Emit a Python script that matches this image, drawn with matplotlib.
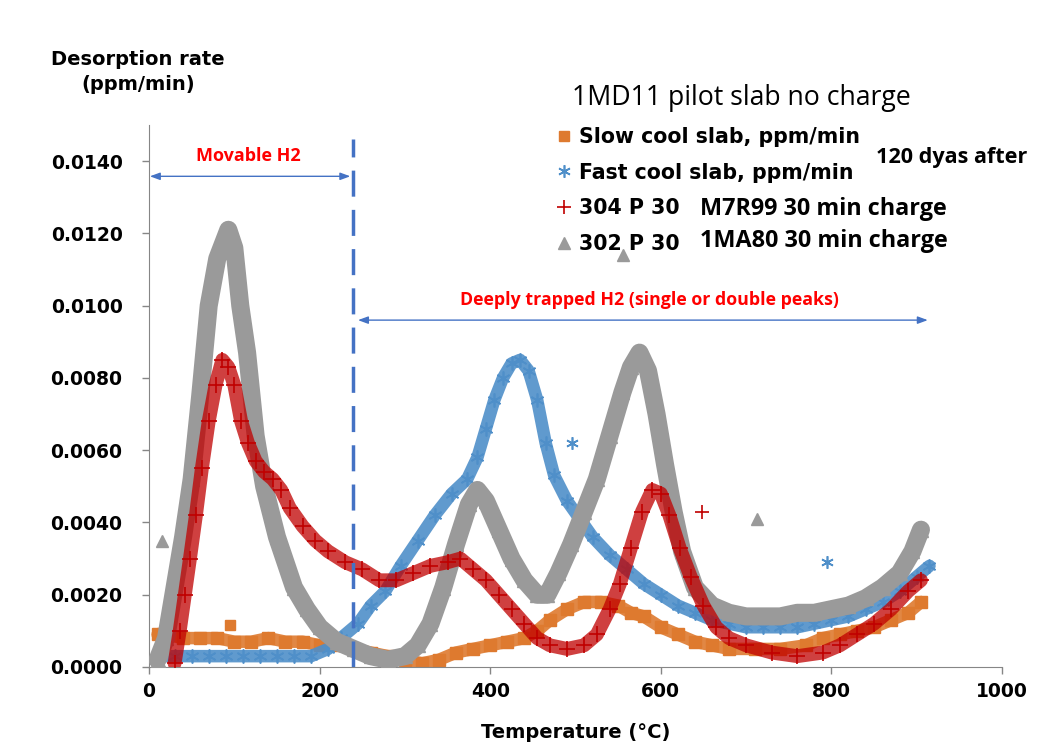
import matplotlib
matplotlib.use("Agg")
import matplotlib.pyplot as plt
from matplotlib.lines import Line2D

# --- data (temperature in degC, rate in ppm/min) ---
slow_T = [10, 20, 40, 60, 80, 100, 120, 140, 160, 180, 200, 220, 240, 260, 280, 300,
          320, 340, 360, 380, 400, 420, 440, 455, 470, 490, 510, 530, 550, 565, 580,
          600, 620, 640, 660, 680, 710, 740, 770, 790, 810, 830, 850, 870, 890, 905]
slow_v = [0.0009, 0.0009, 0.0008, 0.0008, 0.0008, 0.0007, 0.0007, 0.0008, 0.0007, 0.0007,
          0.0006, 0.0006, 0.0005, 0.0004, 0.0003, 0.0002, 0.0001, 0.0002, 0.0004, 0.0005,
          0.0006, 0.0007, 0.0008, 0.0010, 0.0013, 0.0016, 0.0018, 0.0018, 0.0017, 0.0015,
          0.0014, 0.0011, 0.0009, 0.0007, 0.0006, 0.0005, 0.0005, 0.0005, 0.0006, 0.0008,
          0.0009, 0.0010, 0.0011, 0.0013, 0.0015, 0.0018]
slow_out_T = [15, 95]
slow_out_v = [0.00095, 0.00115]

fast_T = [10, 30, 50, 70, 90, 110, 130, 150, 170, 190, 210, 225, 245, 260, 277, 295,
          315, 335, 355, 373, 385, 395, 405, 415, 425, 435, 445, 455, 465, 475, 490,
          505, 520, 540, 560, 580, 600, 620, 640, 660, 680, 700, 720, 740, 760, 780,
          800, 820, 840, 860, 880, 900, 915]
fast_v = [0.0003, 0.0003, 0.0003, 0.0003, 0.0003, 0.0003, 0.0003, 0.0003, 0.0003, 0.0003,
          0.0005, 0.0008, 0.0012, 0.0017, 0.0021, 0.0028, 0.0035, 0.0042, 0.0048, 0.0052,
          0.0058, 0.0066, 0.0074, 0.0080, 0.0084, 0.0085, 0.0082, 0.0074, 0.0062, 0.0053,
          0.0046, 0.0041, 0.0036, 0.0031, 0.0027, 0.0023, 0.0020, 0.0017, 0.0015, 0.0013,
          0.0012, 0.0011, 0.0011, 0.0011, 0.0011, 0.0012, 0.0013, 0.0014, 0.0016, 0.0018,
          0.0021, 0.0025, 0.0028]
fast_out_T = [496, 795]
fast_out_v = [0.0062, 0.0029]

p304_T = [30, 36, 42, 48, 55, 62, 70, 78, 86, 93, 100, 108, 116, 125, 135, 145, 155,
          165, 180, 195, 210, 230, 250, 270, 290, 310, 330, 350, 365, 380, 395, 410,
          425, 440, 455, 470, 490, 510, 525, 540, 552, 565, 578, 590, 600, 610, 622,
          635, 650, 665, 680, 700, 730, 760, 790, 810, 830, 850, 870, 890, 905]
p304_v = [0.0001, 0.0010, 0.0020, 0.0030, 0.0042, 0.0055, 0.0068, 0.0078, 0.0085, 0.0083,
          0.0078, 0.0068, 0.0062, 0.0057, 0.0054, 0.0052, 0.0049, 0.0044, 0.0039, 0.0035,
          0.0032, 0.0029, 0.0027, 0.0024, 0.0024, 0.0026, 0.0028, 0.0029, 0.0030, 0.0027,
          0.0024, 0.0020, 0.0016, 0.0012, 0.0008, 0.0006, 0.0005, 0.0006, 0.0009, 0.0016,
          0.0023, 0.0033, 0.0043, 0.0049, 0.0048, 0.0042, 0.0033, 0.0025, 0.0017, 0.0011,
          0.0008, 0.0006, 0.0004, 0.0003, 0.0004, 0.0006, 0.0009, 0.0012, 0.0016, 0.0021,
          0.0024]
p304_out_T = [648]
p304_out_v = [0.0043]

p302_T = [10, 20, 30, 40, 50, 60, 70, 80, 93, 100, 107, 115, 125, 135, 150, 170, 185,
          200, 220, 240, 260, 280, 300, 315, 330, 345, 360, 375, 385, 395, 410, 425,
          440, 455, 467, 480, 495, 510, 525, 540, 555, 565, 575, 585, 595, 605, 615,
          625, 640, 660, 680, 700, 720, 740, 760, 780, 800, 820, 840, 860, 880, 895, 905]
p302_v = [0.0002, 0.0008, 0.0022, 0.0036, 0.0052, 0.0075, 0.0100, 0.0113, 0.0121, 0.0116,
          0.0100, 0.0087, 0.0064, 0.0050, 0.0036, 0.0022, 0.0016, 0.0011, 0.0007, 0.0005,
          0.0003, 0.0002, 0.0003, 0.0006, 0.0012, 0.0022, 0.0034, 0.0045, 0.0049, 0.0046,
          0.0038, 0.0030, 0.0024, 0.0020, 0.0020, 0.0026, 0.0034, 0.0043, 0.0052, 0.0064,
          0.0076, 0.0083, 0.0087, 0.0082, 0.0070, 0.0056, 0.0043, 0.0032, 0.0022, 0.0017,
          0.0015, 0.0014, 0.0014, 0.0014, 0.0015, 0.0015, 0.0016, 0.0017, 0.0019, 0.0022,
          0.0026, 0.0032, 0.0038]
p302_out_T = [15, 556, 713]
p302_out_v = [0.0035, 0.0114, 0.0041]

y_ticks = [0.0, 0.002, 0.004, 0.006, 0.008, 0.010, 0.012, 0.014]
x_ticks = [0, 200, 400, 600, 800, 1000]

c_slow = "#DE7A2F"
c_fast = "#4F8FC9"
c_304 = "#C00000"
c_302 = "#9A9A9A"
c_note = "#4472C4"

W, H = 1037, 746
fig = plt.figure(figsize=(W / 100, H / 100), dpi=100)
ax = fig.add_axes([149 / W, 79 / H, (1002 - 149) / W, (667 - 125) / H])


def band(T, v, color, marker, ms, z, lw, mew=1.0, alpha=0.9):
    # thick trace behind the markers gives the dense-scatter look of the original
    ax.plot(T, v, "-", color=color, lw=lw, alpha=alpha, zorder=z, solid_capstyle="round")
    ax.plot(T, v, linestyle="none", marker=marker, ms=ms, color=color,
            mec=color, mew=mew, zorder=z)


band(slow_T, slow_v, c_slow, "s", 8, 2, lw=9)
ax.plot(slow_out_T, slow_out_v, "s", ms=7, color=c_slow, zorder=2)
band(fast_T, fast_v, c_fast, (6, 2, 0), 10, 3, lw=9, mew=1.2)
ax.plot(fast_out_T, fast_out_v, linestyle="none", marker=(6, 2, 0), ms=9, mec=c_fast, mew=1.2, zorder=3)
band(p302_T, p302_v, c_302, "^", 10, 4, lw=13, alpha=1.0)
ax.plot(p302_out_T, p302_out_v, "^", ms=9, color=c_302, zorder=4, clip_on=False)
band(p304_T, p304_v, c_304, "+", 12, 5, lw=10, mew=1.2, alpha=0.75)
ax.plot(p304_out_T, p304_out_v, "+", ms=10, mew=1.2, color=c_304, zorder=5)

# movable / trapped zone separator and arrows
ax.plot([239, 239], [0, 0.0146], color=c_note, lw=2.5, dashes=(7.5, 3.8), zorder=6)
arrow = dict(arrowstyle="<|-|>,head_length=0.6,head_width=0.22", color=c_note, lw=1,
             shrinkA=0, shrinkB=0)
ax.annotate("", xy=(1, 0.01358), xytext=(236, 0.01358), arrowprops=arrow)
ax.annotate("", xy=(245, 0.0096), xytext=(913, 0.0096), arrowprops=arrow)
ax.text(117, 0.01415, "Movable H2", color="#FF0000", fontsize=13,
        fontweight="bold", family="Open Sans", ha="center", va="center")
ax.text(587, 0.01015, "Deeply trapped H2 (single or double peaks)", color="#FF0000",
        fontsize=12.8, fontweight="bold", family="Open Sans", ha="center", va="center")

ax.set_xlim(0, 1000)
ax.set_ylim(0, 0.015)
ax.set_xticks(x_ticks)
ax.set_yticks(y_ticks)
ax.set_yticklabels([f"{t:.4f}" for t in y_ticks])
for lab in ax.get_xticklabels() + ax.get_yticklabels():
    lab.set_fontweight("bold")
    lab.set_fontsize(13.5)
ax.tick_params(axis="both", direction="out", length=5, color="#868686", width=1)
ax.tick_params(axis="x", pad=6)
ax.tick_params(axis="y", pad=14)
for s in ["top", "right"]:
    ax.spines[s].set_visible(False)
for s in ["left", "bottom"]:
    ax.spines[s].set_color("#868686")

ax.set_xlabel("Temperature (\u00b0C)", fontsize=14, fontweight="bold", labelpad=16)
fig.text(138 / W, 1 - 72 / H, "Desorption rate\n(ppm/min)", fontsize=14, fontweight="bold",
         ha="center", va="center", multialignment="center", linespacing=1.35)

fig.text(572 / W, 1 - 98 / H, "1MD11 pilot slab no charge", fontsize=19.2,
         family="Open Sans", ha="left", va="center")

handles = [
    Line2D([], [], linestyle="none", marker="s", ms=7, color=c_slow),
    Line2D([], [], linestyle="none", marker=(6, 2, 0), ms=9, mec=c_fast, mew=1.2),
    Line2D([], [], linestyle="none", marker="+", ms=10, mew=1.2, color=c_304),
    Line2D([], [], linestyle="none", marker="^", ms=9, color=c_302),
]
labels = ["Slow cool slab, ppm/min", "Fast cool slab, ppm/min", "304 P 30", "302 P 30"]
leg = fig.legend(handles, labels, loc="upper left", bbox_to_anchor=(556 / W, 1 - 127 / H),
                 frameon=False, borderpad=0, borderaxespad=0, handlelength=0.8,
                 handletextpad=0.3, labelspacing=0.76,
                 prop=dict(size=14.8, weight="bold"))

fig.text(700 / W, 1 - 209 / H, "M7R99 30 min charge", fontsize=16.8, fontweight="bold",
         family="Open Sans", ha="left", va="center")
fig.text(700 / W, 1 - 241 / H, "1MA80 30 min charge", fontsize=16.8, fontweight="bold",
         family="Open Sans", ha="left", va="center")
fig.text(876 / W, 1 - 157 / H, "120 dyas after", fontsize=15.6, fontweight="bold",
         family="Open Sans", ha="left", va="center")

fig.savefig("out.png", dpi=100)
